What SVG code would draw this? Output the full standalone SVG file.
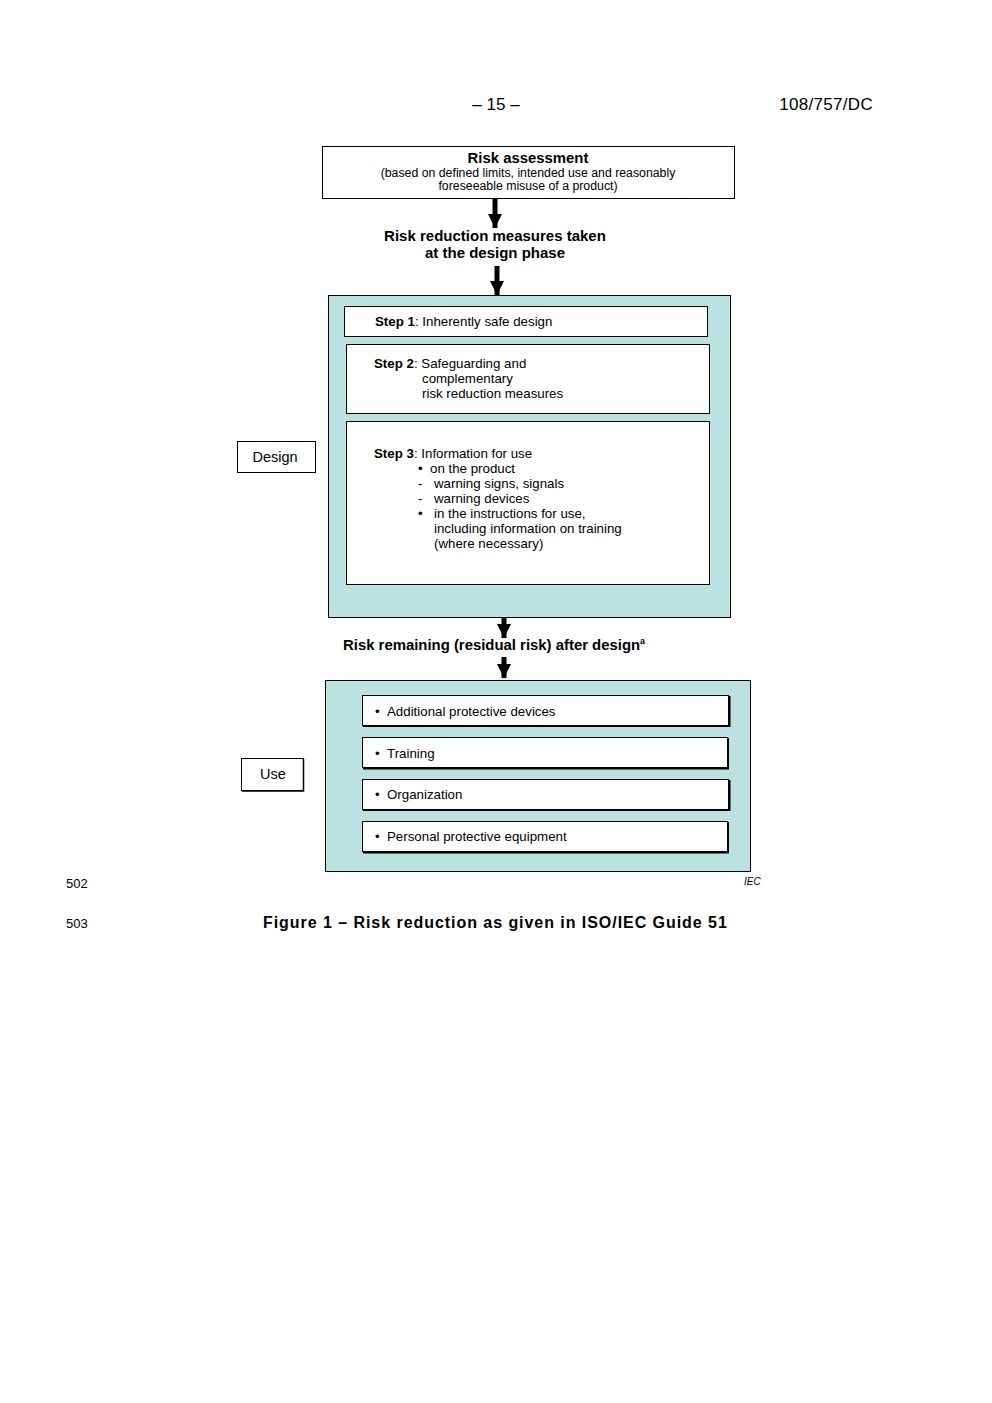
<svg xmlns="http://www.w3.org/2000/svg" width="992" height="1403" viewBox="0 0 992 1403">
<defs>
<marker id="ah" viewBox="0 0 10 10" refX="10" refY="5" markerWidth="2.8" markerHeight="2.8" markerUnits="strokeWidth" orient="auto">
<path d="M0,0 L10,5 L0,10 Z" fill="#000"/>
</marker>
<style>
text{font-family:"Liberation Sans",Arial,sans-serif;fill:#000}
.b{font-weight:bold}
.panel{fill:#BBE1E1;stroke:#000;stroke-width:1}
.box{fill:#fff;stroke:#000;stroke-width:1}
.sh{fill:none;stroke:#000;stroke-width:2}
.t12{font-size:13.3px}
.t14{font-size:14.9px}
.conn{stroke:#000;stroke-width:5;fill:none;marker-end:url(#ah)}
</style>
</defs>
<rect width="992" height="1403" fill="#fff"/>
<g id="header">
<text x="496" y="110" text-anchor="middle" style="font-size:17px">– 15 –</text>
<text x="873" y="110" text-anchor="end" style="font-size:17px;letter-spacing:0.3px">108/757/DC</text>
</g>
<g id="risk-assessment">
<rect x="322.5" y="146.5" width="412" height="52" class="box"/>
<text x="528" y="163" class="b t14" text-anchor="middle">Risk assessment</text>
<text x="528" y="177" text-anchor="middle" style="font-size:12.3px">(based on defined limits, intended use and reasonably</text>
<text x="528" y="190" text-anchor="middle" style="font-size:12.3px">foreseeable misuse of a product)</text>
</g>
<g id="label-reduction">
<text x="495" y="241" class="b" text-anchor="middle" style="font-size:15px">Risk reduction measures taken</text>
<text x="495" y="258" class="b" text-anchor="middle" style="font-size:15px">at the design phase</text>
</g>
<g id="design-panel">
<rect x="328.5" y="295.5" width="402" height="322" class="panel"/>
</g>
<g id="step1">
<rect x="344.5" y="306.5" width="363" height="30" class="box"/>
<text x="375" y="326" class="t12"><tspan class="b">Step 1</tspan>: Inherently safe design</text>
</g>
<g id="step2">
<rect x="346.5" y="344.5" width="363" height="69" class="box"/>
<text x="374" y="368" class="t12"><tspan class="b">Step 2</tspan>: Safeguarding and</text>
<text x="422" y="383" class="t12">complementary</text>
<text x="422" y="398" class="t12">risk reduction measures</text>
</g>
<g id="step3">
<rect x="346.5" y="421.5" width="363" height="163" class="box"/>
<text x="374" y="458" class="t12"><tspan class="b">Step 3</tspan>: Information for use</text>
<text x="418" y="473" class="t12">•</text><text x="430" y="473" class="t12">on the product</text>
<text x="418" y="488" class="t12">-</text><text x="434" y="488" class="t12">warning signs, signals</text>
<text x="418" y="503" class="t12">-</text><text x="434" y="503" class="t12">warning devices</text>
<text x="418" y="518" class="t12">•</text><text x="434" y="518" class="t12">in the instructions for use,</text>
<text x="434" y="533" class="t12">including information on training</text>
<text x="434" y="548" class="t12">(where necessary)</text>
</g>
<g id="design-label">
<rect x="237.5" y="441.5" width="78" height="31" class="box"/>
<text x="275" y="462" text-anchor="middle" style="font-size:14.5px">Design</text>
</g>
<g id="label-residual">
<text x="343" y="650" class="b t14">Risk remaining (residual risk) after design<tspan dy="-6" style="font-size:9px">a</tspan></text>
</g>
<g id="use-panel">
<rect x="325.5" y="680.5" width="425" height="191" class="panel"/>
</g>
<g id="use1">
<rect x="362.5" y="695.5" width="366" height="30" class="box"/>
<path d="M729.5 696 V726 H363" class="sh"/>
<text x="375" y="716" class="t12">•</text><text x="387" y="716" class="t12">Additional protective devices</text>
</g>
<g id="use2">
<rect x="362.5" y="737.5" width="365" height="30" class="box"/>
<path d="M728 738 V768.5 H363" class="sh"/>
<text x="375" y="758" class="t12">•</text><text x="387" y="758" class="t12">Training</text>
</g>
<g id="use3">
<rect x="362.5" y="779.5" width="366" height="30" class="box"/>
<path d="M729.5 780 V810 H363" class="sh"/>
<text x="375" y="799" class="t12">•</text><text x="387" y="799" class="t12">Organization</text>
</g>
<g id="use4">
<rect x="362.5" y="821.5" width="365" height="30" class="box"/>
<path d="M728 822 V852.5 H363" class="sh"/>
<text x="375" y="841" class="t12">•</text><text x="387" y="841" class="t12">Personal protective equipment</text>
</g>
<g id="use-label">
<rect x="241.5" y="758.5" width="62" height="32" class="box"/>
<path d="M303.5 759 V791 H242" class="sh" style="stroke-width:1.5"/>
<text x="273" y="779" text-anchor="middle" style="font-size:14.5px">Use</text>
</g>
<g id="connectors">
<line x1="495" y1="199" x2="495" y2="228" class="conn"/>
<line x1="497" y1="266" x2="497" y2="295" class="conn"/>
<line x1="504" y1="618" x2="504" y2="638" class="conn"/>
<line x1="504" y1="657" x2="504" y2="678" class="conn"/>
</g>
<g id="footer">
<text x="744" y="885" font-style="italic" style="font-size:10px">IEC</text>
<text x="66" y="888" style="font-size:13px">502</text>
<text x="66" y="928" style="font-size:13px">503</text>
<text x="263" y="928" class="b" style="font-size:16px;letter-spacing:0.95px">Figure 1 – Risk reduction as given in ISO/IEC Guide 51</text>
</g>
</svg>
